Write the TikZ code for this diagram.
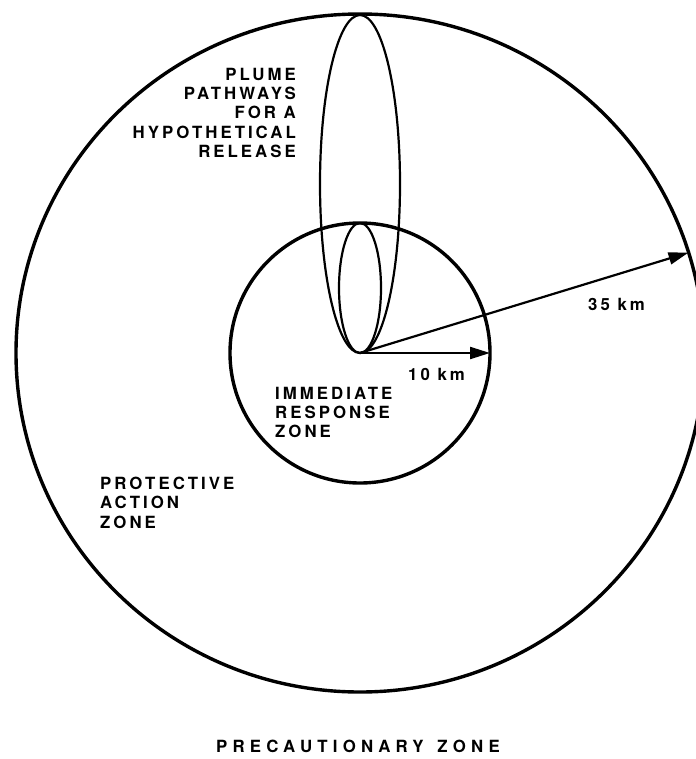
\documentclass[tikz,border=0pt]{standalone}
\usepackage{fontspec}
\setmainfont{TeX Gyre Heros}
\usepackage{xcolor}
\definecolor{cInk}{HTML}{000000}
\usepackage{tikz}
\usetikzlibrary{positioning,arrows.meta,shapes.geometric}
\newcommand{\zonefont}{\fontsize{16.8bp}{19.2bp}\selectfont\bfseries\addfontfeature{LetterSpace=18}}
\tikzset{
  zone-ring/.style={draw=cInk,line width=3.4bp,outer sep=0pt,inner sep=0pt},
  plume/.style={draw=cInk,line width=2.2bp},
  arrow-radius/.style={-{Triangle[length=20bp,width=12bp]},line width=2.2bp,draw=cInk},
  zone-label/.style={font=\zonefont,inner sep=0pt,text=cInk},
}

\begin{document}
\begin{tikzpicture}[x=1bp,y=-1bp]
  \useasboundingbox (0,0) rectangle (696,759);
  \clip (0,0) rectangle (696,759);
  \coordinate (src) at (360,353);
  \node[zone-ring,ellipse,minimum width=688bp,minimum height=678bp] (outer) at (src) {};
  \node[zone-ring,circle,minimum size=260bp] (inner) at (src) {};
  % plume pathways
  \draw[plume] (360,184) ellipse [x radius=40,y radius=169];
  \draw[plume] (360,288) ellipse [x radius=21,y radius=65];
  \draw[arrow-radius] (src) -- (inner.east);
  \draw[arrow-radius] (src) -- (outer.17.5);
  \node[zone-label,anchor=north east,align=right] (plume-txt) at (296,68)
    {PLUME\\PATHWAYS\\FOR A\\HYPOTHETICAL\\RELEASE};
  \node[zone-label,anchor=north west] (r10) at (408,368) {10 km};
  \node[zone-label,anchor=north west] (r35) at (588,298) {35 km};
  \node[zone-label,anchor=north west,align=left] (irz-txt) at (275,387)
    {IMMEDIATE\\RESPONSE\\ZONE};
  \node[zone-label,anchor=north west,align=left] (paz-txt) at (100,477)
    {PROTECTIVE\\ACTION\\ZONE};
  \node[zone-label,anchor=north,font=\zonefont\addfontfeature{LetterSpace=31}] (pz-txt) at (358,740)
    {PRECAUTIONARY\hspace{4bp} ZONE};
\end{tikzpicture}
\end{document}
